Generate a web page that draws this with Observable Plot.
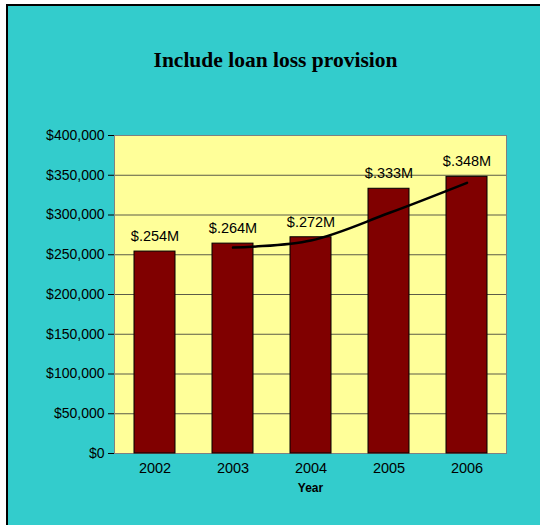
<!DOCTYPE html>
<html>
<head>
<meta charset="utf-8">
<script src="https://cdn.jsdelivr.net/npm/d3@7"></script>
<script src="https://cdn.jsdelivr.net/npm/@observablehq/plot@0.6"></script>
<style>
  html, body { margin: 0; padding: 0; background: #ffffff; width: 540px; height: 525px; overflow: hidden; }
  #box { position: absolute; left: 6px; top: 4px; width: 560px; height: 560px; background: #33CCCC;
         border-left: 2px solid #000; border-top: 2px solid #000; }
  #title { position: absolute; left: 0; top: 48px; width: 551px; text-align: center;
           font-family: "Liberation Serif", serif; font-weight: bold; font-size: 21.5px; color: #000; }
  #chart { position: absolute; left: 0; top: 100px; }
  #chart svg { background: transparent; }
</style>
</head>
<body>
<div id="box"></div>
<div id="title">Include loan loss provision</div>
<div id="chart"></div>
<script>
const years = ["2002", "2003", "2004", "2005", "2006"];
const values = [254000, 264000, 272000, 333000, 348000];
const labels = ["$.254M", "$.264M", "$.272M", "$.333M", "$.348M"];
// trendline (2-period moving average)
const trendYears = ["2003", "2004", "2005", "2006"];
const trendValues = [259000, 268000, 302500, 340500];
const yTicks = [0, 50000, 100000, 150000, 200000, 250000, 300000, 350000, 400000];

const bars = years.map((year, i) => ({year, value: values[i], label: labels[i]}));
const trend = trendYears.map((year, i) => ({year, value: trendValues[i]}));

const chart = Plot.plot({
  width: 540,
  height: 425,
  marginLeft: 114,
  marginRight: 34,
  marginTop: 35,
  marginBottom: 72,
  style: {background: "transparent", fontFamily: "'Liberation Sans', Arial, sans-serif", color: "#000"},
  x: {domain: years, paddingInner: 0.48, paddingOuter: 0.24, label: null},
  y: {domain: [0, 400000], label: null},
  marks: [
    Plot.frame({fill: "#FFFF99", stroke: null}),
    Plot.gridY(yTicks, {stroke: "#333", strokeOpacity: 0.8}),
    Plot.frame({stroke: "#808080"}),
    Plot.barY(bars, {x: "year", y: "value", fill: "#800000", stroke: "#000", strokeWidth: 1}),
    Plot.line(trend, {x: "year", y: "value", stroke: "#000", strokeWidth: 2.5, curve: "catmull-rom"}),
    Plot.text(bars, {x: "year", y: "value", text: "label", dy: -15, fontSize: 14.5, fill: "#000"}),
    Plot.axisY(yTicks, {tickFormat: d => "$" + d3.format(",")(d), tickSize: 6, tickPadding: 4, fontSize: 14, label: null}),
    Plot.axisX({tickSize: 0, tickPadding: 9, fontSize: 14.5, label: null}),
    Plot.text(["Year"], {frameAnchor: "bottom", dy: 38, fontSize: 12, fontWeight: "bold", fill: "#000"})
  ]
});
document.getElementById("chart").appendChild(chart);
</script>
</body>
</html>
